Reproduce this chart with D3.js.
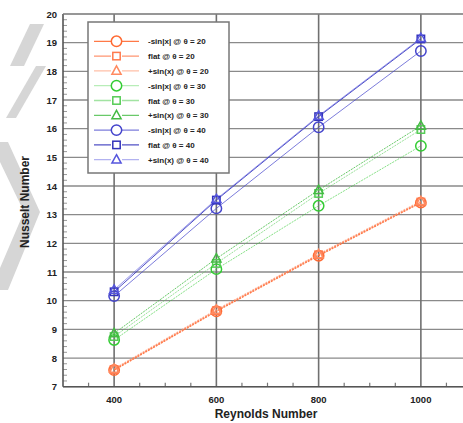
<!DOCTYPE html>
<html><head><meta charset="utf-8">
<script src="https://cdn.jsdelivr.net/npm/d3@7"></script>
<style>body{margin:0;background:#fff}svg{display:block}text{font-family:"Liberation Sans",Arial,sans-serif;font-weight:bold;fill:#222}</style>
</head><body><svg id="c" width="463" height="423"></svg>
<script>
const reynolds = [400, 600, 800, 1000];
const yTicks = [7,8,9,10,11,12,13,14,15,16,17,18,19,20];
const xTicks = [400, 600, 800, 1000];
const labels = ["-sin|x| @ θ = 20","flat @ θ = 20","+sin(x) @ θ = 20",
                "-sin|x| @ θ = 30","flat @ θ = 30","+sin(x) @ θ = 30",
                "-sin|x| @ θ = 40","flat @ θ = 40","+sin(x) @ θ = 40"];
const nuSin20  = [7.58, 9.63, 11.57, 13.42];
const nuFlat20 = [7.60, 9.65, 11.60, 13.44];
const nuPos20  = [7.62, 9.68, 11.62, 13.47];
const nuSin30  = [8.63, 11.10, 13.31, 15.40];
const nuFlat30 = [8.75, 11.30, 13.74, 15.97];
const nuPos30  = [8.86, 11.47, 13.86, 16.10];
const nuSin40  = [10.16, 13.22, 16.05, 18.71];
const nuFlat40 = [10.31, 13.51, 16.42, 19.13];
const nuPos40  = [10.38, 13.54, 16.45, 19.16];
const seriesValues = [nuSin20,nuFlat20,nuPos20,nuSin30,nuFlat30,nuPos30,nuSin40,nuFlat40,nuPos40];
const shapes = ["circle","square","triangle","circle","square","triangle","circle","square","triangle"];
const colors = ["#ff6a33","#ff7a4d","#ff8a60","#33cc33","#55cc55","#44bb44","#4444cc","#3333bb","#5555dd"];
const lineOpacity = [0.9,0.8,0.55, 0.35,0.55,0.8, 0.7,0.85,0.45];
const dashes = ["2,1","2,1","2,1","2,1","2,1","2,1",null,null,null];

const svg = d3.select("#c");
// watermark
const wm = svg.append("g").attr("fill","#d6d6d6");
[[ [30,24],[44,24],[24,66],[10,66] ], [[36,66],[46,66],[16,118],[6,118]], [[0,142],[8,142],[40,212],[8,290],[0,290],[0,268],[24,212],[0,162]]]
  .forEach(p => wm.append("path").attr("d", d3.line()(p) + "Z"));

const x = d3.scaleLinear().domain([300, 1100]).range([63, 472]);
const y = d3.scaleLinear().domain([7, 20]).range([386.7, 14]);

const g = svg.append("g");
g.selectAll(".hg").data(yTicks).join("line")
  .attr("x1", x(300)).attr("x2", x(1100)).attr("y1", d=>y(d)).attr("y2", d=>y(d))
  .attr("stroke","#8a8a8a").attr("stroke-width",1.3);
g.selectAll(".vg").data(xTicks).join("line")
  .attr("x1", d=>x(d)).attr("x2", d=>x(d)).attr("y1", y(20)).attr("y2", y(7))
  .attr("stroke","#707070").attr("stroke-width",1.6);
const yMinor = d3.range(70, 200, 2).map(v=>v/10).filter(v=>Math.abs(v-Math.round(v))>1e-6);
g.selectAll(".ym").data(yMinor).join("line")
  .attr("x1", x(300)).attr("x2", x(300)+4).attr("y1", d=>y(d)).attr("y2", d=>y(d))
  .attr("stroke","#999").attr("stroke-width",1);
const xMinor = d3.range(350, 1100, 50).filter(v=>v%200!==0);
g.selectAll(".xm").data(xMinor).join("line")
  .attr("x1", d=>x(d)).attr("x2", d=>x(d)).attr("y1", y(7)).attr("y2", y(7)-4)
  .attr("stroke","#777").attr("stroke-width",1.2);
g.append("line").attr("x1",x(300)).attr("x2",x(300)).attr("y1",y(20)).attr("y2",y(7)).attr("stroke","#555").attr("stroke-width",1.6);
g.append("line").attr("x1",x(300)).attr("x2",x(1100)).attr("y1",y(7)).attr("y2",y(7)).attr("stroke","#555").attr("stroke-width",1.6);
g.append("line").attr("x1",x(300)).attr("x2",x(1100)).attr("y1",y(20)).attr("y2",y(20)).attr("stroke","#888").attr("stroke-width",1.2);

svg.selectAll(".yl").data(yTicks).join("text")
  .attr("x", 57).attr("y", d=>y(d)+3.5).attr("text-anchor","end").attr("font-size",9.5).text(d=>d);
svg.selectAll(".xl").data(xTicks).join("text")
  .attr("x", d=>x(d)).attr("y", 403).attr("text-anchor","middle").attr("font-size",9.5).text(d=>d);
svg.append("text").attr("x", 266).attr("y", 418).attr("text-anchor","middle").attr("font-size",12).text("Reynolds Number");
svg.append("text").attr("transform","translate(29,202) rotate(-90)").attr("text-anchor","middle").attr("font-size",12).text("Nusselt Number");

function marker(sel, shape, color) {
  let s;
  if (shape==="circle") s = sel.append("circle").attr("r",5.2);
  else if (shape==="square") s = sel.append("rect").attr("x",-3.7).attr("y",-3.7).attr("width",7.4).attr("height",7.4);
  else s = sel.append("path").attr("d","M0,-5L4.6,3.4L-4.6,3.4Z");
  s.attr("fill","none").attr("stroke",color).attr("stroke-width",1.5);
}

const line = d3.line().x((d,i)=>x(reynolds[i])).y(d=>y(d));
seriesValues.forEach((vals, k) => {
  g.append("path").attr("d", line(vals)).attr("fill","none")
    .attr("stroke", colors[k]).attr("stroke-opacity", Math.max(lineOpacity[k],0.6))
    .attr("stroke-width", k<3 ? 1.3 : 1)
    .attr("stroke-dasharray", dashes[k]);
});
seriesValues.forEach((vals, k) => {
  vals.forEach((v,i) => {
    const m = g.append("g").attr("transform",`translate(${x(reynolds[i])},${y(v)})`);
    marker(m, shapes[k], colors[k]);
  });
});

const lg = svg.append("g");
lg.append("rect").attr("x",88).attr("y",22).attr("width",141).attr("height",151)
  .attr("fill","#fff").attr("stroke","#777").attr("stroke-width",1.5);
labels.forEach((lab,k) => {
  const yy = 41.3 + k*14.8;
  lg.append("line").attr("x1",94).attr("x2",139).attr("y1",yy).attr("y2",yy)
    .attr("stroke",colors[k]).attr("stroke-opacity",lineOpacity[k]).attr("stroke-width",1.3);
  const m = lg.append("g").attr("transform",`translate(116.5,${yy})`);
  m.append("rect").attr("x",-5.5).attr("y",-5.5).attr("width",11).attr("height",11).attr("fill","#fff");
  marker(m, shapes[k], colors[k]);
  lg.append("text").attr("x",148).attr("y",yy+3).attr("font-size",8).text(lab);
});
</script></body></html>
